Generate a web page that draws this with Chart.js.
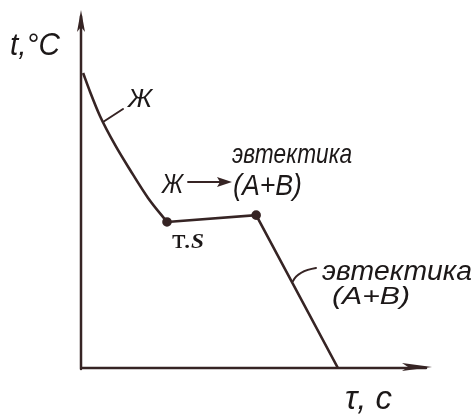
<!DOCTYPE html>
<html>
<head>
<meta charset="utf-8">
<script src="https://cdn.jsdelivr.net/npm/chart.js@4"></script>
<style>
  html, body { margin: 0; padding: 0; background: #fff; }
  #wrap { width: 475px; height: 417px; }
</style>
</head>
<body>
<div id="wrap"><canvas id="coolingChart" width="475" height="417"></canvas></div>
<script>
// Cooling curve of a eutectic alloy: liquid cooling, eutectic arrest, solid cooling
const liquidTime = [0.6, 2.6, 5.4, 9.7, 14.0, 19.1, 24.5];
const liquidTemp = [82.4, 77.1, 70.4, 62.3, 55.3, 47.5, 40.8];
const arrestTime = [24.5, 49.9, 73.2];
const arrestTemp = [40.8, 42.7, 0];
const arrestDots = [3.5, 3.5, 0];

const INK = '#362424';
const TEXT = '#1c1818';
const HAND = '"Liberation Sans Narrow", "Liberation Sans", sans-serif';
const SERIF = '"Liberation Serif", "DejaVu Serif", serif';

// axis arrows, leader lines and hand-lettered captions
const sketchPlugin = {
    id: 'sketch',
    afterDatasetsDraw(chart) {
        const { ctx, chartArea: a, scales } = chart;
        const x0 = scales.x.getPixelForValue(0);
        const y0 = scales.y.getPixelForValue(0);

        ctx.save();
        ctx.strokeStyle = INK;
        ctx.fillStyle = INK;
        ctx.lineWidth = 2.5;
        ctx.lineCap = 'round';

        // axes
        ctx.beginPath();
        ctx.moveTo(x0, y0 + 1);
        ctx.lineTo(x0, a.top + 6);
        ctx.moveTo(x0, y0);
        ctx.lineTo(a.right - 6, y0);
        ctx.stroke();

        // arrow heads
        ctx.beginPath();
        ctx.moveTo(x0, a.top);
        ctx.lineTo(x0 - 4, a.top + 22);
        ctx.lineTo(x0, a.top + 17);
        ctx.lineTo(x0 + 4, a.top + 22);
        ctx.closePath();
        ctx.fill();
        ctx.beginPath();
        ctx.moveTo(a.right, y0 - 1);
        ctx.lineTo(a.right - 30, y0 - 5);
        ctx.lineTo(a.right - 24, y0 - 1);
        ctx.lineTo(a.right - 30, y0 + 3);
        ctx.closePath();
        ctx.fill();

        // leader lines
        ctx.lineWidth = 2;
        ctx.beginPath();
        ctx.moveTo(103, 122);
        ctx.lineTo(123, 109);
        ctx.moveTo(293, 281);
        ctx.quadraticCurveTo(298, 271, 316, 268);
        ctx.stroke();

        // arrow in "ж → (A+B)"
        ctx.lineWidth = 1.8;
        ctx.beginPath();
        ctx.moveTo(188, 182);
        ctx.lineTo(222, 182);
        ctx.stroke();
        ctx.beginPath();
        ctx.moveTo(232, 182);
        ctx.lineTo(217, 177);
        ctx.lineTo(220, 182);
        ctx.lineTo(217, 187);
        ctx.closePath();
        ctx.fill();

        // text squeezed or stretched to the given width
        ctx.fillStyle = TEXT;
        ctx.textBaseline = 'alphabetic';
        const put = (txt, x, y, size, width, style, family) => {
            ctx.font = `${style || 'italic'} ${size}px ${family || HAND}`;
            const sx = width / ctx.measureText(txt).width;
            ctx.save();
            ctx.translate(x, y);
            ctx.scale(sx, 1);
            ctx.fillText(txt, 0, 0);
            ctx.restore();
        };
        put('t,°C', 10, 55, 31, 50);
        put('Ж', 128, 107, 26, 24);
        put('эвтектика', 232, 163, 28, 120);
        put('Ж', 162, 193, 28, 21);
        put('(A+B)', 233, 195, 29, 69);
        put('т.', 172, 248, 27, 19, 'normal', SERIF);
        put('S', 191, 248, 22, 13, 'italic bold', SERIF);
        put('эвтектика', 322, 280, 27, 150);
        put('(A+B)', 332, 304, 23, 78);
        put('τ, c', 345, 409, 34, 47);
        ctx.restore();
    }
};

new Chart(document.getElementById('coolingChart'), {
    type: 'scatter',
    data: {
        datasets: [
            {
                label: 'жидкость',
                data: liquidTime.map((t, i) => ({ x: t, y: liquidTemp[i] })),
                showLine: true,
                borderColor: INK,
                borderWidth: 2.6,
                cubicInterpolationMode: 'monotone',
                pointRadius: 0
            },
            {
                label: 'эвтектика',
                data: arrestTime.map((t, i) => ({ x: t, y: arrestTemp[i] })),
                showLine: true,
                borderColor: INK,
                borderWidth: 2.6,
                tension: 0,
                pointRadius: arrestDots,
                pointBackgroundColor: INK,
                pointBorderColor: INK
            }
        ]
    },
    options: {
        responsive: false,
        animation: false,
        layout: { padding: { left: 81, right: 43, top: 10, bottom: 49 } },
        plugins: {
            legend: { display: false },
            tooltip: { enabled: false }
        },
        scales: {
            x: { type: 'linear', min: 0, max: 100, display: false },
            y: { type: 'linear', min: 0, max: 100, display: false }
        }
    },
    plugins: [sketchPlugin]
});
</script>
</body>
</html>
